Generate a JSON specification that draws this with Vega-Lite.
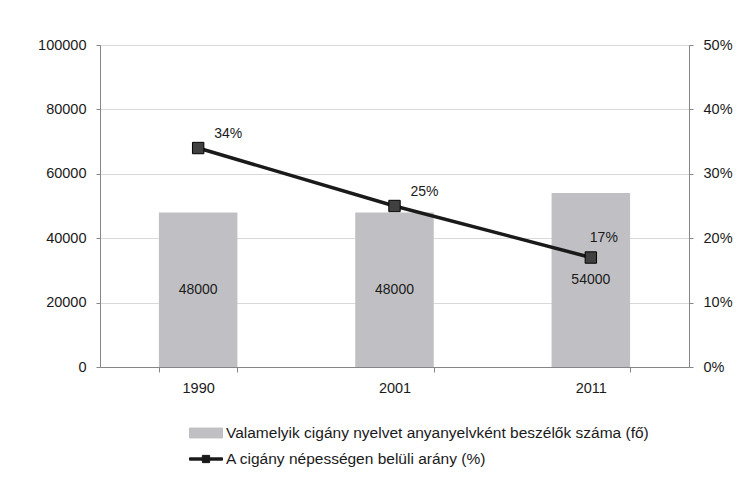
{
  "$schema": "https://vega.github.io/schema/vega-lite/v6.json",
  "width": 589,
  "height": 322,
  "autosize": {"type": "none"},
  "padding": {"left": 100, "top": 45, "right": 52, "bottom": 124},
  "background": "white",
  "config": {
    "view": {"stroke": null},
    "font": "Liberation Sans",
    "axis": {"labelFont": "Liberation Sans", "labelFontSize": 14.5, "labelColor": "#1a1a1a", "domainColor": "#868686", "tickColor": "#868686", "gridColor": "#d9d9d9", "title": null},
    "legend": {"labelFont": "Liberation Sans", "labelFontSize": 15.5, "labelColor": "#1a1a1a", "labelLimit": 0}
  },
  "data": {
    "values": [
      {"year": "1990", "speakers": 48000, "share": 0.34},
      {"year": "2001", "speakers": 48000, "share": 0.25},
      {"year": "2011", "speakers": 54000, "share": 0.17}
    ]
  },
  "encoding": {
    "x": {
      "field": "year", "type": "nominal", "sort": null,
      "scale": {"paddingInner": 0.6, "paddingOuter": 0.3},
      "axis": {"labelAngle": 0, "tickBand": "extent", "tickSize": 5, "labelPadding": 9, "grid": false}
    }
  },
  "layer": [
    {
      "layer": [
        {
          "mark": {"type": "bar"},
          "encoding": {
            "y": {"field": "speakers", "type": "quantitative", "scale": {"domain": [0, 100000]},
              "axis": {"values": [0, 20000, 40000, 60000, 80000, 100000], "format": "d", "tickSize": 4, "labelPadding": 10, "grid": true}},
            "color": {"datum": "Valamelyik cigány nyelvet anyanyelvként beszélők száma (fő)", "type": "nominal",
              "scale": {"domain": ["Valamelyik cigány nyelvet anyanyelvként beszélők száma (fő)", "A cigány népességen belüli arány (%)"], "range": ["#c0c0c4", "#1a1a1a"]},
              "legend": {
                "orient": "none", "legendX": 89, "legendY": 371, "title": null,
                "symbolSize": 1089, "labelOffset": 3, "rowPadding": 0,
                "encode": {
                  "symbols": {"update": {
                    "shape": {"signal": "datum.value === 'A cigány népességen belüli arány (%)' ? 'M-1,-0.07H1V0.07H-1Z M-0.22,-0.22H0.22V0.22H-0.22Z' : 'M-1,-0.3H1V0.3H-1Z'"},
                    "fill": {"signal": "datum.value === 'A cigány népességen belüli arány (%)' ? '#333333' : '#c0c0c4'"},
                    "stroke": {"signal": "datum.value === 'A cigány népességen belüli arány (%)' ? '#000000' : '#c0c0c4'"},
                    "strokeWidth": {"value": 1},
                    "opacity": {"value": 1},
                    "fillOpacity": {"value": 1}
                  }}
                }
              }}
          }
        },
        {
          "transform": [{"calculate": "datum.speakers / 2", "as": "mid"}],
          "mark": {"type": "text", "fontSize": 14, "color": "#1a1a1a"},
          "encoding": {
            "y": {"field": "mid", "type": "quantitative"},
            "text": {"field": "speakers", "type": "quantitative", "format": "d"}
          }
        }
      ]
    },
    {
      "layer": [
        {
          "mark": {"type": "line", "strokeWidth": 3.5},
          "encoding": {
            "y": {"field": "share", "type": "quantitative", "scale": {"domain": [0, 0.5]},
              "axis": {"orient": "right", "values": [0, 0.1, 0.2, 0.3, 0.4, 0.5], "format": ".0%", "tickSize": 4, "labelPadding": 10, "grid": false}},
            "color": {"datum": "A cigány népességen belüli arány (%)", "type": "nominal"}
          }
        },
        {
          "mark": {"type": "point", "shape": "square", "size": 130, "filled": true, "fill": "#404040", "stroke": "#000000", "strokeWidth": 1, "opacity": 1},
          "encoding": {
            "y": {"field": "share", "type": "quantitative"}
          }
        },
        {
          "mark": {"type": "text", "fontSize": 14, "color": "#1a1a1a",
            "dx": {"expr": "datum.year === '2011' ? 13 : 30"},
            "dy": {"expr": "datum.year === '2011' ? -20 : -14"}},
          "encoding": {
            "y": {"field": "share", "type": "quantitative"},
            "text": {"field": "share", "type": "quantitative", "format": ".0%"}
          }
        }
      ]
    }
  ],
  "resolve": {"scale": {"y": "independent"}}
}
